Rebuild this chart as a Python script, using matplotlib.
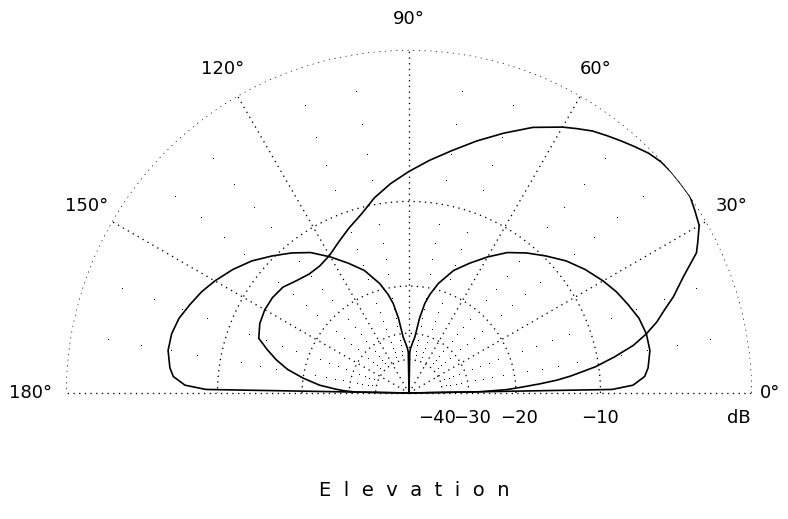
import numpy as np
import matplotlib.pyplot as plt

plt.rcParams['font.family'] = 'DejaVu Sans'
plt.rcParams['font.size'] = 13

## Data ##
# elevation angle in degrees, gain in dB relative to the peak
main_deg = [0, 1, 2, 3, 4, 5, 6, 8, 10, 12, 14, 16, 18, 20, 23, 26, 27.5, 30,
            32.5, 35, 37.5, 40, 42.5, 45, 47.5, 50, 52.5, 55, 57.5, 60, 65, 70,
            75, 80, 85, 90, 95, 100, 105, 110, 115, 120, 125, 130, 135, 140, 145,
            150, 155, 160, 163, 166, 169, 172, 175, 177, 178, 179, 180]
main_db = [-99, -27, -21.5, -19, -16.5, -14.3, -12.8, -10.3, -8.5, -6.9, -5.8,
           -4.9, -4.2, -3.4, -2.4, -1.2, -0.9, -0.4, -0.2, 0, 0, 0, -0.05, -0.2,
           -0.45, -0.7, -0.95, -1.2, -1.55, -1.9, -2.7, -3.7, -4.7, -5.7, -6.6,
           -7.5, -8.4, -9.4, -10.6, -11.5, -12.4, -13.2, -13.6, -13.6, -13.2,
           -12.6, -12.4, -12.4, -12.6, -13.1, -14.4, -15.8, -17.5, -20.0, -23.0,
           -26.5, -28.5, -32, -99]

twin_deg = [0, 1, 2, 4, 6, 10, 14, 18, 22, 26, 30, 35, 40, 45, 50, 55, 60, 65,
            70, 75, 78, 80, 82, 84, 86, 88, 89, 90, 91, 92, 94, 96, 98, 100, 102,
            105, 110, 115, 120, 125, 130, 135, 140, 145, 150, 154, 158, 162, 166,
            170, 174, 176, 178, 179, 180]
twin_db = [-99, -9.0, -7.3, -6.4, -6.1, -5.8, -5.8, -6.0, -6.4, -6.8, -7.3, -8.0,
           -8.8, -9.8, -10.8, -11.9, -13.4, -15.0, -16.6, -19.0, -21.0, -22.8,
           -26.0, -31.0, -33.0, -35.0, -36.5, -99, -36.5, -35.0, -33.0, -31.0,
           -26.0, -22.8, -21.0, -19.0, -16.6, -15.0, -13.4, -11.9, -10.8, -9.8,
           -8.8, -8.0, -7.3, -6.8, -6.4, -6.0, -5.8, -5.8, -6.1, -6.4, -7.3, -9.0,
           -99]

ring_db = [0, -10, -20, -30, -40]
spoke_deg = [0, 30, 60, 90, 120, 150, 180]
spoke_text = ['0°', '30°', '60°', '90°', '120°', '150°', '180°']
tick_db = [-40, -30, -20, -10]
tick_text = ['−40', '−30', '−20', '−10']


## ARRL log scale: 0.89 per 2 dB ##
def arrl(d):
    return 0.89 ** (-np.asarray(d, dtype=float) / 2.0)

def arrl_inv(r):
    r = np.clip(np.asarray(r, dtype=float), 1e-12, None)
    return -2.0 * np.log(r) / np.log(0.89)


## Canvas ##
W, H = 788, 519
cx, cy, R = 409, H - 393, 343
fig = plt.figure(figsize=(W / 100, H / 100), dpi=100)
ax = fig.add_axes([(cx - R) / W, (cy - R) / H, 2 * R / W, 2 * R / H],
                  projection='polar')
ax.set_rscale('function', functions=(arrl, arrl_inv))

dotted = dict(color='k', lw=0.95, ls=(0, (1, 3.3)), dash_capstyle='butt')

# rings and spokes
th = np.linspace(0, np.pi, 400)
for d in ring_db:
    ax.plot(th, np.full_like(th, d), **dotted)
for a in spoke_deg:
    ax.plot([np.deg2rad(a)] * 2, [-200, 0], **dotted)

# single dots every 10 deg / 2 dB
grid_deg = [a for a in range(10, 180, 10) if a % 30]
grid_db = [d for d in range(-2, -40, -2) if d % 10]
gt, gr = np.meshgrid(np.deg2rad(grid_deg), grid_db)
ax.plot(gt.ravel(), gr.ravel(), ls='none', marker=',', color='k')

# patterns
ax.plot(np.deg2rad(twin_deg), twin_db, color='k', lw=1.2)
ax.plot(np.deg2rad(main_deg), main_db, color='k', lw=1.2)

ax.set_rlim(-200, 0)
ax.grid(False)
ax.set_xticks([])
ax.set_yticks([])
ax.spines['polar'].set_visible(False)
ax.patch.set_visible(False)

# angle labels
for a, t in zip(spoke_deg, spoke_text):
    if a == 0:
        ax.text(0.5 + 351 / 686, 0.5, t, transform=ax.transAxes, ha='left', va='center')
    elif a == 180:
        ax.text(0.5 - 357 / 686, 0.5, t, transform=ax.transAxes, ha='right', va='center')
    else:
        ax.text(0.5 + 0.543 * np.cos(np.deg2rad(a)), 0.5 + 0.545 * np.sin(np.deg2rad(a)),
                t, transform=ax.transAxes, ha='center', va='center')

# dB labels under the axis
shift = {-40: -5, -30: 3, -20: 3, -10: -1}
for d, t in zip(tick_db, tick_text):
    ax.annotate(t, xy=(0, d), xytext=(shift[d], -25), textcoords='offset pixels',
                ha='center', va='center')
ax.annotate('dB', xy=(0, 0), xytext=(-13, -25), textcoords='offset pixels',
            ha='center', va='center')

fig.text(414 / W, 1 - 490 / H, 'E  l  e  v  a  t  i  o  n', ha='center',
         va='center', fontsize=14)

fig.savefig('out.png', dpi=100)
